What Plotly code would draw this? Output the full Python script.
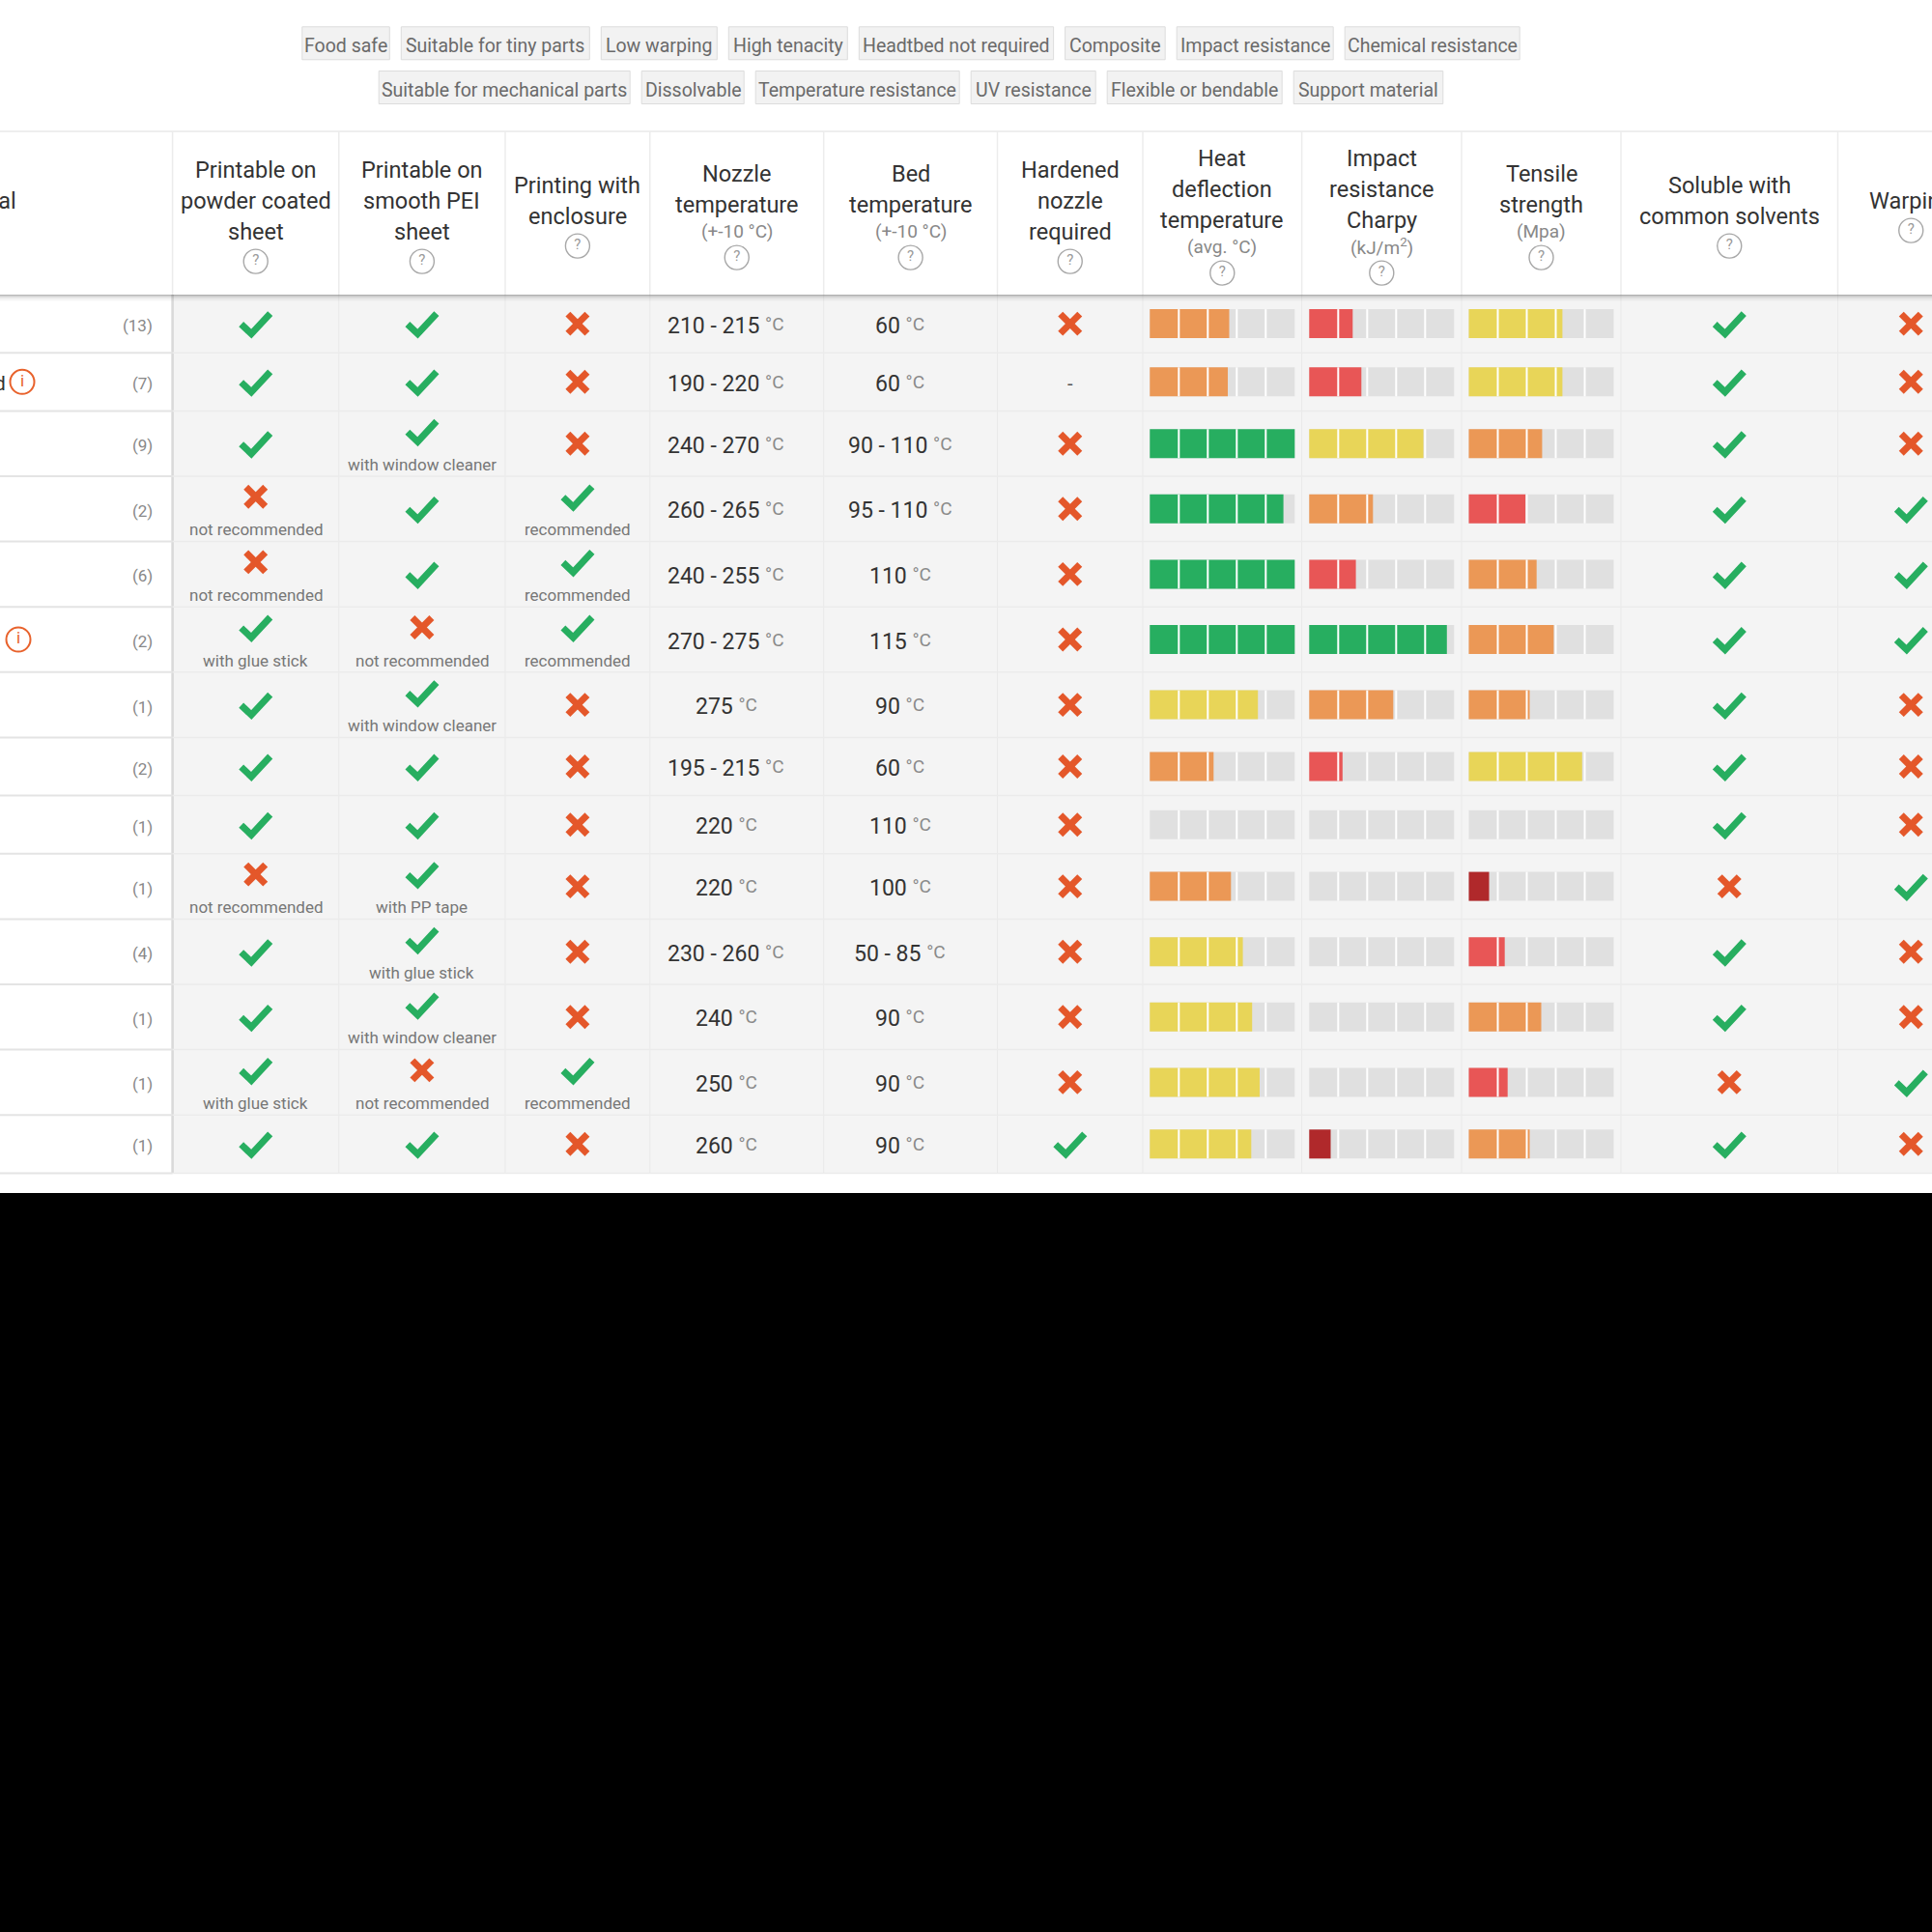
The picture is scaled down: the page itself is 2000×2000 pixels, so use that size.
import plotly.graph_objects as go

# ---------------- data ----------------
TAGS_ROW1 = ["Food safe", "Suitable for tiny parts", "Low warping", "High tenacity",
             "Headtbed not required", "Composite", "Impact resistance", "Chemical resistance"]
TAGS_ROW2 = ["Suitable for mechanical parts", "Dissolvable", "Temperature resistance",
             "UV resistance", "Flexible or bendable", "Support material"]

HEADER_LINES = [
    ["Material"],
    ["Printable on", "powder coated", "sheet"],
    ["Printable on", "smooth PEI", "sheet"],
    ["Printing with", "enclosure"],
    ["Nozzle", "temperature"],
    ["Bed", "temperature"],
    ["Hardened", "nozzle", "required"],
    ["Heat", "deflection", "temperature"],
    ["Impact", "resistance", "Charpy"],
    ["Tensile", "strength"],
    ["Soluble with", "common solvents"],
    ["Warping"],
]
HEADER_UNITS = [None, None, None, None, "(+-10 °C)", "(+-10 °C)", None,
                "(avg. °C)", "(kJ/m<sup>2</sup>)", "(Mpa)", None, None]

COUNTS = [13, 7, 9, 2, 6, 2, 1, 2, 1, 1, 4, 1, 1, 1]
NAME_ENDS = ["", "d", "", "", "", "", "", "", "", "", "", "", "", ""]
HAS_INFO = [0, 1, 0, 0, 0, 1, 0, 0, 0, 0, 0, 0, 0, 0]

POWDER_OK = [1, 1, 1, 0, 0, 1, 1, 1, 1, 0, 1, 1, 1, 1]
POWDER_NOTE = ["", "", "", "not recommended", "not recommended", "with glue stick", "", "", "",
               "not recommended", "", "", "with glue stick", ""]
PEI_OK = [1, 1, 1, 1, 1, 0, 1, 1, 1, 1, 1, 1, 0, 1]
PEI_NOTE = ["", "", "with window cleaner", "", "", "not recommended", "with window cleaner", "", "",
            "with PP tape", "with glue stick", "with window cleaner", "not recommended", ""]
ENCL_OK = [0, 0, 0, 1, 1, 1, 0, 0, 0, 0, 0, 0, 1, 0]
ENCL_NOTE = ["", "", "", "recommended", "recommended", "recommended", "", "", "", "", "", "",
             "recommended", ""]
NOZZLE = ["210 - 215", "190 - 220", "240 - 270", "260 - 265", "240 - 255", "270 - 275", "275",
          "195 - 215", "220", "220", "230 - 260", "240", "250", "260"]
BED = ["60", "60", "90 - 110", "95 - 110", "110", "115", "90", "60", "110", "100", "50 - 85",
       "90", "90", "90"]
HARDENED = [0, None, 0, 0, 0, 0, 0, 0, 0, 0, 0, 0, 0, 1]   # None -> "-"
HEAT_DEFLECTION = [2.74, 2.69, 5.0, 4.61, 5.0, 5.0, 3.73, 2.2, 0, 2.8, 3.21, 3.53, 3.79, 3.5]
IMPACT = [1.5, 1.8, 3.94, 2.2, 1.61, 4.75, 2.9, 1.15, 0, 0, 0, 0, 0, 0.74]
TENSILE = [3.23, 3.23, 2.53, 1.96, 2.34, 2.93, 2.1, 3.91, 0, 0.7, 1.24, 2.5, 1.34, 2.1]
SOLUBLE = [1, 1, 1, 1, 1, 1, 1, 1, 1, 0, 1, 1, 0, 1]
WARPING = [0, 0, 0, 1, 1, 1, 0, 0, 0, 1, 0, 0, 1, 0]

# ---------------- layout / style ----------------
FONT = "Roboto, Liberation Sans, sans-serif"
C_TEXT = "#333333"
C_SUB = "#888888"
C_NOTE = "#777777"
C_OK = "#27ae60"
C_BAD = "#e4572a"
C_INFO = "#e8622c"
C_GRAY_BAR = "#e0e0e0"
BAR_COLORS = ["#b0292b", "#e85656", "#eb9856", "#e8d558", "#27ae60"]

COL_EDGES = [0, 178.6, 350.8, 523, 672.8, 852.7, 1032.5, 1183, 1347.6, 1513, 1678, 1902.5, 2054]
COL_C = [(a + b) / 2 for a, b in zip(COL_EDGES[:-1], COL_EDGES[1:])]
HEAD_TOP, HEAD_BOT, HEAD_MID = 136, 305, 221.6
PAGE_BOTTOM = 1235
TAG_W1 = [90.5, 195, 120, 123, 201.3, 103.6, 162, 181]
TAG_W2 = [260, 106, 211, 129, 181, 154.6]
TAG_GAP, TAG_CX = 12, 943
INFO_X = [0, 23, 0, 0, 0, 19, 0, 0, 0, 0, 0, 0, 0, 0]   # names differ in length
TEXT_DY = 2   # annotation boxes sit slightly high of the glyph centre

n = len(COUNTS)
row_h = [67.6 if (POWDER_NOTE[i] or PEI_NOTE[i] or ENCL_NOTE[i]) else 60.2 for i in range(n)]
row_top = [HEAD_BOT]
for h in row_h:
    row_top.append(row_top[-1] + h)
row_c = [(row_top[i] + row_top[i + 1]) / 2 for i in range(n)]
TABLE_BOT = row_top[-1]

shapes, ann = [], []


def rect(x0, y0, x1, y1, fill, line=None, lw=0, layer="below"):
    shapes.append(dict(type="rect", xref="x", yref="y", x0=x0, y0=y0, x1=x1, y1=y1,
                       fillcolor=fill, line=dict(color=line or fill, width=lw), layer=layer))


def hline(x0, x1, y, color, w=1, layer="below"):
    shapes.append(dict(type="line", xref="x", yref="y", x0=x0, x1=x1, y0=y, y1=y,
                       line=dict(color=color, width=w), layer=layer))


def vline(x, y0, y1, color, w=1, layer="below"):
    shapes.append(dict(type="line", xref="x", yref="y", x0=x, x1=x, y0=y0, y1=y1,
                       line=dict(color=color, width=w), layer=layer))


def txt(x, y, s, size, color, xanchor="center"):
    ann.append(dict(x=x, y=y + TEXT_DY, xref="x", yref="y", text=s, showarrow=False,
                    font=dict(size=size, color=color, family=FONT),
                    xanchor=xanchor, yanchor="middle"))


# page background (white page, black beyond the screenshot)
rect(0, 0, 2000, PAGE_BOTTOM, "#ffffff")

# tags
for tags, widths, cy in ((TAGS_ROW1, TAG_W1, 44.8), (TAGS_ROW2, TAG_W2, 90.5)):
    total = sum(widths) + TAG_GAP * (len(widths) - 1)
    x = TAG_CX - total / 2
    for t, w in zip(tags, widths):
        rect(x, cy - 17, x + w, cy + 17, "#f2f2f2", "#dcdcdc", 1)
        txt(x + w / 2, cy + 1, t, 19.5, "#6a6a6a")
        x += w + TAG_GAP

# table body background
rect(COL_EDGES[1], HEAD_BOT, 2000, TABLE_BOT, "#f4f4f4")
hline(0, 2000, HEAD_TOP, "#e9e9e9", 1.5)
for e in COL_EDGES[1:-1]:
    vline(e, HEAD_TOP, HEAD_BOT, "#ececec", 1.5)
    vline(e, HEAD_BOT, TABLE_BOT, "#e9e9e9", 1)
vline(COL_EDGES[1], HEAD_BOT, TABLE_BOT, "#d9d9d9", 2.5)
for yb in row_top[1:]:
    hline(0, COL_EDGES[1], yb, "#e4e4e4", 2)
    hline(COL_EDGES[1], 2000, yb, "#ebebeb", 1.5)
# header shadow
for k, a in enumerate([0.28, 0.18, 0.12, 0.08, 0.05, 0.03, 0.015]):
    hline(0, 2000, HEAD_BOT + 0.5 + k, f"rgba(0,0,0,{a})", 1, layer="above")

# header texts (every column carries a help icon; the first one is off-page)
help_x, help_y = [], []
for ci, lines in enumerate(HEADER_LINES):
    unit = HEADER_UNITS[ci]
    total = 32 * len(lines) + (24 if unit else 0) + 32
    y = HEAD_MID - total / 2
    for ln in lines:
        if ci == 0:
            txt(19, y + 16, ln, 23.5, C_TEXT, xanchor="right")
        else:
            txt(COL_C[ci], y + 16, ln, 23.5, C_TEXT)
        y += 32
    if unit:
        txt(COL_C[ci], y + 12, unit, 19, C_SUB)
        y += 24
    if ci > 0:
        help_x.append(COL_C[ci])
        help_y.append(y + 17)

# left column: names, info, counts
info_x, info_y = [], []
for i in range(n):
    if NAME_ENDS[i]:
        txt(8, row_c[i], NAME_ENDS[i], 21, C_TEXT, xanchor="right")
    if HAS_INFO[i]:
        info_x.append(INFO_X[i])
        info_y.append(row_c[i])
    txt(160, row_c[i], f"({COUNTS[i]})", 17, "#888888", xanchor="right")

# check / cross icons
chk_x, chk_y, crs_x, crs_y = [], [], [], []


def icon(cx, cy, ok):
    if ok:
        chk_x.extend([cx - 15, cx - 4.5, cx + 15, None])
        chk_y.extend([cy + 0.5, cy + 10.5, cy - 10.5, None])
    else:
        crs_x.extend([cx - 10, cx + 10, None, cx - 10, cx + 10, None])
        crs_y.extend([cy - 10, cy + 10, None, cy + 10, cy - 10, None])


for i in range(n):
    for ci, oks, notes in ((1, POWDER_OK, POWDER_NOTE), (2, PEI_OK, PEI_NOTE), (3, ENCL_OK, ENCL_NOTE)):
        if notes[i]:
            icon(COL_C[ci], row_c[i] - 12.5, oks[i])
            txt(COL_C[ci], row_c[i] + 19.5, notes[i], 17, C_NOTE)
        else:
            icon(COL_C[ci], row_c[i], oks[i])
    deg = " <span style='font-size:19px;color:#8a8a8a;baseline-shift:3px'>°C</span>"
    txt(COL_C[4] - 11, row_c[i], NOZZLE[i] + deg, 23, C_TEXT)
    txt(COL_C[5] - 11, row_c[i], BED[i] + deg, 23, C_TEXT)
    if HARDENED[i] is None:
        txt(COL_C[6], row_c[i], "-", 20, "#555555")
    else:
        icon(COL_C[6], row_c[i], HARDENED[i])
    icon(COL_C[10], row_c[i], SOLUBLE[i])
    icon(COL_C[11], row_c[i], WARPING[i])

# rating bars: gray track below, coloured fill as bars, white segment gaps above
bar_x, bar_base, bar_y, bar_col = [], [], [], []
for ci, vals in ((7, HEAT_DEFLECTION), (8, IMPACT), (9, TENSILE)):
    left = COL_C[ci] - 75
    for i in range(n):
        rect(left, row_c[i] - 15, left + 150, row_c[i] + 15, C_GRAY_BAR)
        for k in range(1, 5):
            vline(left + 30 * k, row_c[i] - 15, row_c[i] + 15, "#ffffff", 2, layer="above")
        if vals[i] > 0:
            bar_x.append(vals[i] * 30)
            bar_base.append(left)
            bar_y.append(row_c[i])
            bar_col.append(BAR_COLORS[min(int(vals[i]), 4)])

fig = go.Figure()
fig.add_trace(go.Bar(x=bar_x, base=bar_base, y=bar_y, orientation="h", width=30,
                     marker=dict(color=bar_col, line=dict(width=0)), hoverinfo="skip"))
fig.add_trace(go.Scatter(x=chk_x, y=chk_y, mode="lines", line=dict(color=C_OK, width=7),
                         hoverinfo="skip"))
fig.add_trace(go.Scatter(x=crs_x, y=crs_y, mode="lines", line=dict(color=C_BAD, width=7),
                         hoverinfo="skip"))
fig.add_trace(go.Scatter(x=help_x, y=help_y, mode="markers+text", text=["?"] * len(help_x),
                         textposition="middle center",
                         textfont=dict(size=15, color="#9a9a9a", family=FONT),
                         marker=dict(symbol="circle-open", size=25, color="#a8a8a8",
                                     line=dict(width=1.4, color="#a8a8a8")),
                         hoverinfo="skip"))
fig.add_trace(go.Scatter(x=info_x, y=info_y, mode="markers+text", text=["i"] * len(info_x),
                         textposition="middle center",
                         textfont=dict(size=17, color=C_INFO, family=FONT),
                         marker=dict(symbol="circle-open", size=25, color=C_INFO,
                                     line=dict(width=2, color=C_INFO)),
                         hoverinfo="skip"))

fig.update_layout(
    width=2000, height=2000,
    margin=dict(l=0, r=0, t=0, b=0),
    paper_bgcolor="#000000", plot_bgcolor="#000000",
    showlegend=False, barmode="overlay",
    xaxis=dict(range=[0, 2000], visible=False, fixedrange=True),
    yaxis=dict(range=[2000, 0], visible=False, fixedrange=True),
    shapes=shapes, annotations=ann,
    font=dict(family=FONT),
)
# the screenshot has no page margin, so drop the browser's default body margin
fig.write_html("out.html", config={"displayModeBar": False},
               post_script="document.body.style.margin='0';")
